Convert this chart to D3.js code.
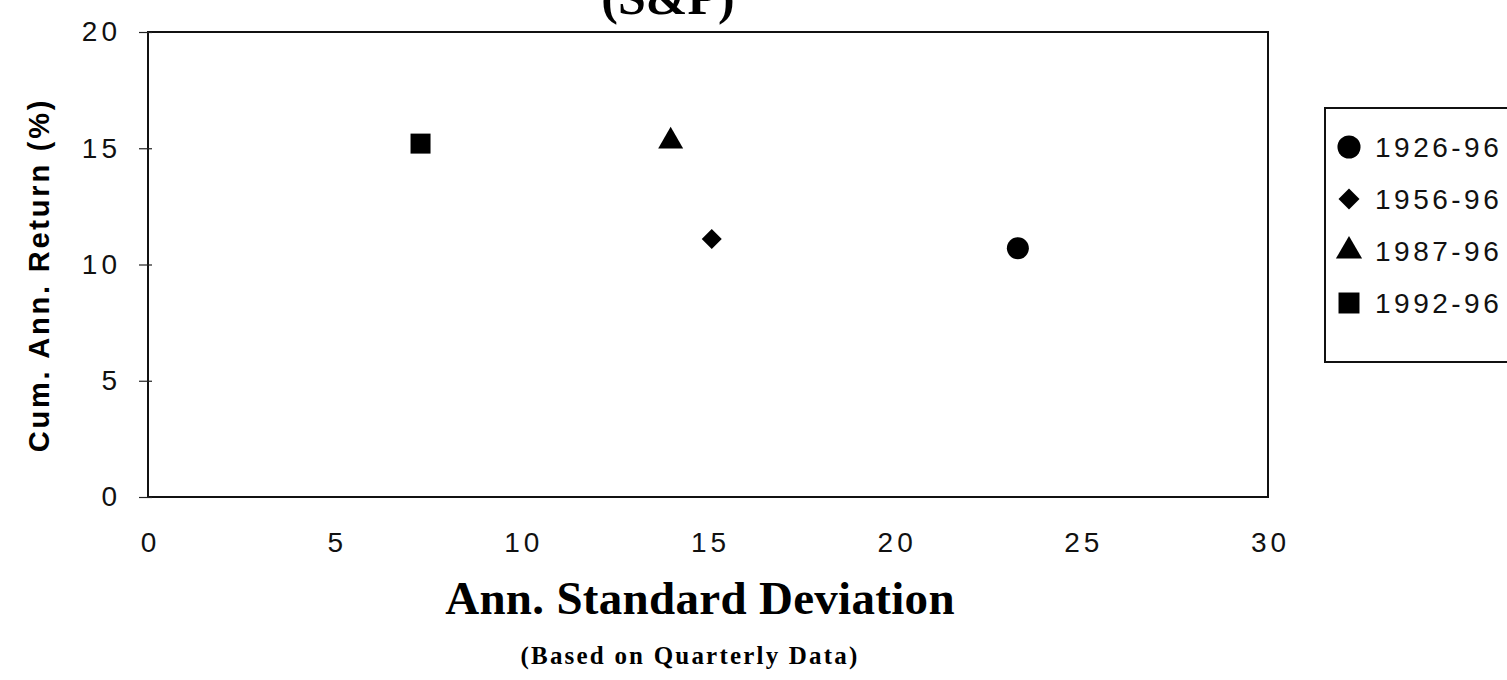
<!DOCTYPE html>
<html>
<head>
<meta charset="utf-8">
<script src="https://cdn.jsdelivr.net/npm/d3@7"></script>
<style>
  body { margin: 0; background: #fff; }
  svg { display: block; }
</style>
</head>
<body>
<svg id="chart"></svg>
<script>
// data
const periods = ["1926-96", "1956-96", "1987-96", "1992-96"];
const stdDev = [23.3, 15.1, 14.0, 7.3];
const annReturn = [10.7, 11.1, 15.3, 15.2];
const shapes = ["circle", "diamond", "triangle", "square"];
const xTicks = [0, 5, 10, 15, 20, 25, 30];
const yTicks = [0, 5, 10, 15, 20];

const width = 1507, height = 680;
const margin = { top: 32, right: 239, bottom: 183, left: 148 };

const svg = d3.select("#chart").attr("width", width).attr("height", height);

const x = d3.scaleLinear().domain([0, 30]).range([margin.left, width - margin.right]);
const y = d3.scaleLinear().domain([0, 20]).range([height - margin.bottom, margin.top]);

// diamond is a square turned 45 degrees, like the original
const marker = {
  circle: { type: d3.symbolCircle, size: 380, rot: 0 },
  diamond: { type: d3.symbolSquare, size: 200, rot: 45 },
  triangle: { type: d3.symbolTriangle, size: 270, rot: 0 },
  square: { type: d3.symbolSquare, size: 400, rot: 0 },
};

// title, cut at the top edge
svg.append("text")
  .attr("x", 668).attr("y", 14)
  .attr("text-anchor", "middle")
  .attr("font-family", "Liberation Serif, serif")
  .attr("font-weight", "bold")
  .attr("font-size", 50)
  .text("(S&P)");

// plot frame
svg.append("rect")
  .attr("x", x(0)).attr("y", y(20))
  .attr("width", x(30) - x(0)).attr("height", y(0) - y(20))
  .attr("fill", "none").attr("stroke", "#111").attr("stroke-width", 2);

// y axis
const yAxis = svg.append("g")
  .attr("transform", `translate(${x(0)},0)`)
  .call(d3.axisLeft(y).tickValues(yTicks).tickSize(9).tickPadding(18));
yAxis.select(".domain").remove();
yAxis.selectAll("line").attr("x2", -9).attr("x1", 4).attr("stroke", "#222").attr("stroke-width", 1.2);
yAxis.selectAll("text")
  .attr("font-family", "Liberation Sans, Arial, sans-serif")
  .attr("font-size", 28).attr("letter-spacing", 4).attr("fill", "#111");

// x axis
const xAxis = svg.append("g")
  .attr("transform", `translate(0,${y(0)})`)
  .call(d3.axisBottom(x).tickValues(xTicks).tickSize(0).tickPadding(35));
xAxis.select(".domain").remove();
xAxis.selectAll("text")
  .attr("font-family", "Liberation Sans, Arial, sans-serif")
  .attr("font-size", 28).attr("letter-spacing", 4).attr("dx", 2).attr("fill", "#111");

// points
svg.append("g")
  .selectAll("path")
  .data(periods)
  .join("path")
  .attr("transform", (d, i) => `translate(${x(stdDev[i])},${y(annReturn[i])}) rotate(${marker[shapes[i]].rot})`)
  .attr("d", (d, i) => d3.symbol(marker[shapes[i]].type, marker[shapes[i]].size)())
  .attr("fill", "#000");

// axis titles
svg.append("text")
  .attr("x", 700).attr("y", 614)
  .attr("text-anchor", "middle")
  .attr("font-family", "Liberation Serif, serif")
  .attr("font-weight", "bold")
  .attr("font-size", 47)
  .attr("letter-spacing", 0.3)
  .text("Ann. Standard Deviation");

svg.append("text")
  .attr("x", 690).attr("y", 664)
  .attr("text-anchor", "middle")
  .attr("font-family", "Liberation Serif, serif")
  .attr("font-weight", "bold")
  .attr("font-size", 25)
  .attr("letter-spacing", 2.2)
  .text("(Based on Quarterly Data)");

svg.append("text")
  .attr("transform", "translate(49,275) rotate(-90)")
  .attr("text-anchor", "middle")
  .attr("font-family", "Liberation Sans, Arial, sans-serif")
  .attr("font-weight", "bold")
  .attr("font-size", 29)
  .attr("letter-spacing", 2.8)
  .text("Cum. Ann. Return (%)");

// legend
const legend = svg.append("g").attr("transform", "translate(1325,108)");
legend.append("rect")
  .attr("x", 0).attr("y", 0).attr("width", 200).attr("height", 254)
  .attr("fill", "none").attr("stroke", "#111").attr("stroke-width", 2);
const item = legend.selectAll("g.item")
  .data(periods)
  .join("g")
  .attr("class", "item")
  .attr("transform", (d, i) => `translate(0,${39 + i * 52})`);
item.append("path")
  .attr("transform", (d, i) => `translate(24,0) rotate(${marker[shapes[i]].rot})`)
  .attr("d", (d, i) => d3.symbol(marker[shapes[i]].type, marker[shapes[i]].size * 1.1)())
  .attr("fill", "#000");
item.append("text")
  .attr("x", 50).attr("dy", "0.36em")
  .attr("font-family", "Liberation Sans, Arial, sans-serif")
  .attr("font-size", 28)
  .attr("letter-spacing", 3.5)
  .attr("fill", "#111")
  .text(d => d);
</script>
</body>
</html>
